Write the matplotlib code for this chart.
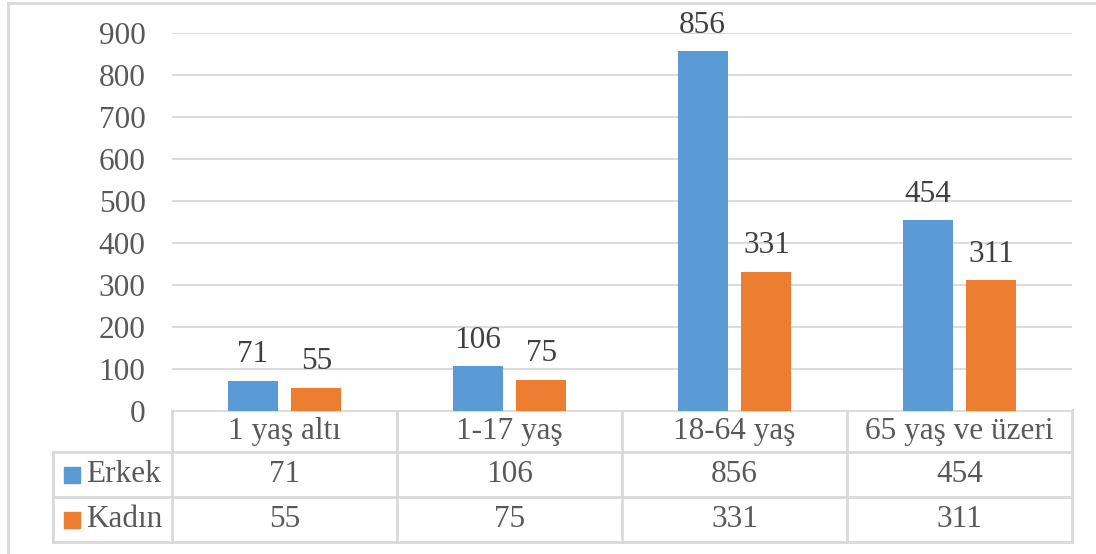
import matplotlib
matplotlib.use("Agg")
import matplotlib.pyplot as plt
from matplotlib.patches import Rectangle
import numpy as np

categories = ["1 yaş altı", "1-17 yaş", "18-64 yaş", "65 yaş ve üzeri"]
series_names = ["Erkek", "Kadın"]
erkek = [71, 106, 856, 454]
kadin = [55, 75, 331, 311]
yticks = [0, 100, 200, 300, 400, 500, 600, 700, 800, 900]

colors = ["#5B9BD5", "#ED7D31"]
txt = "#595959"
lbl = "#404040"
gridc = "#D9D9D9"
plt.rcParams['font.family'] = ['Liberation Serif', 'DejaVu Serif']
FS = 22.5

W, H = 1096, 554
fig = plt.figure(figsize=(W / 100, H / 100), dpi=100)

# pixel layout
L, R, T, B = 172, 1072, 33, 411
ax = fig.add_axes([L / W, (H - B) / H, (R - L) / W, (B - T) / H])
n = len(categories)
x = np.arange(n)
bw = 0.222
off = 0.142
ax.bar(x - off, erkek, bw, color=colors[0], zorder=3)
ax.bar(x + off, kadin, bw, color=colors[1], zorder=3)
for xi, v in zip(x - off, erkek):
    ax.annotate(str(v), (xi, v), xytext=(0, 8.5), textcoords="offset points",
                ha="center", va="bottom", fontsize=FS, color=lbl, annotation_clip=False)
for xi, v in zip(x + off, kadin):
    ax.annotate(str(v), (xi, v), xytext=(0, 8.5), textcoords="offset points",
                ha="center", va="bottom", fontsize=FS, color=lbl, annotation_clip=False)
ax.set_xlim(-0.5, n - 0.5)
ax.set_ylim(0, 900)
ax.set_yticks(yticks)
ax.set_yticklabels([str(t) for t in yticks], fontsize=FS, color=txt)
ax.tick_params(axis="y", length=0, pad=19)
ax.set_xticks([])
ax.yaxis.grid(True, color=gridc, lw=1.3, zorder=0)
for s in ax.spines.values():
    s.set_visible(False)

# overlay for data table and frame
ov = fig.add_axes([0, 0, 1, 1], zorder=-1)
ov.set_xlim(0, W)
ov.set_ylim(H, 0)
ov.axis("off")
ov.patch.set_alpha(0)

lw = 2
# outer frame
ov.plot([8, 8], [3, H], color=gridc, lw=2)
ov.plot([8, W], [3, 3], color=gridc, lw=2)

colw = (R - L) / n
row_top, row_cat, row_e, row_k = 410, 452, 497, 542
tleft = 53
ov.plot([L, R], [row_top, row_top], color=gridc, lw=lw)
for yy in [row_cat, row_e, row_k]:
    ov.plot([tleft, R], [yy, yy], color=gridc, lw=lw)
ov.plot([tleft, tleft], [row_cat, row_k], color=gridc, lw=lw)
for i in range(n + 1):
    xx = L + i * colw
    ov.plot([xx, xx], [row_top, row_k], color=gridc, lw=lw)

for i, c in enumerate(categories):
    ov.text(L + (i + 0.5) * colw, (row_top + row_cat) / 2, c, ha="center", va="center",
            fontsize=FS, color=txt)
rows = [erkek, kadin]
ys = [(row_cat + row_e) / 2, (row_e + row_k) / 2]
for r, (vals, yc) in enumerate(zip(rows, ys)):
    ov.add_patch(Rectangle((64, yc - 8), 16, 16, color=colors[r]))
    ov.text(86, yc, series_names[r], ha="left", va="center", fontsize=FS, color=txt)
    for i, v in enumerate(vals):
        ov.text(L + (i + 0.5) * colw, yc, str(v), ha="center", va="center",
                fontsize=FS, color=txt)

fig.savefig("out.png", dpi=100)
